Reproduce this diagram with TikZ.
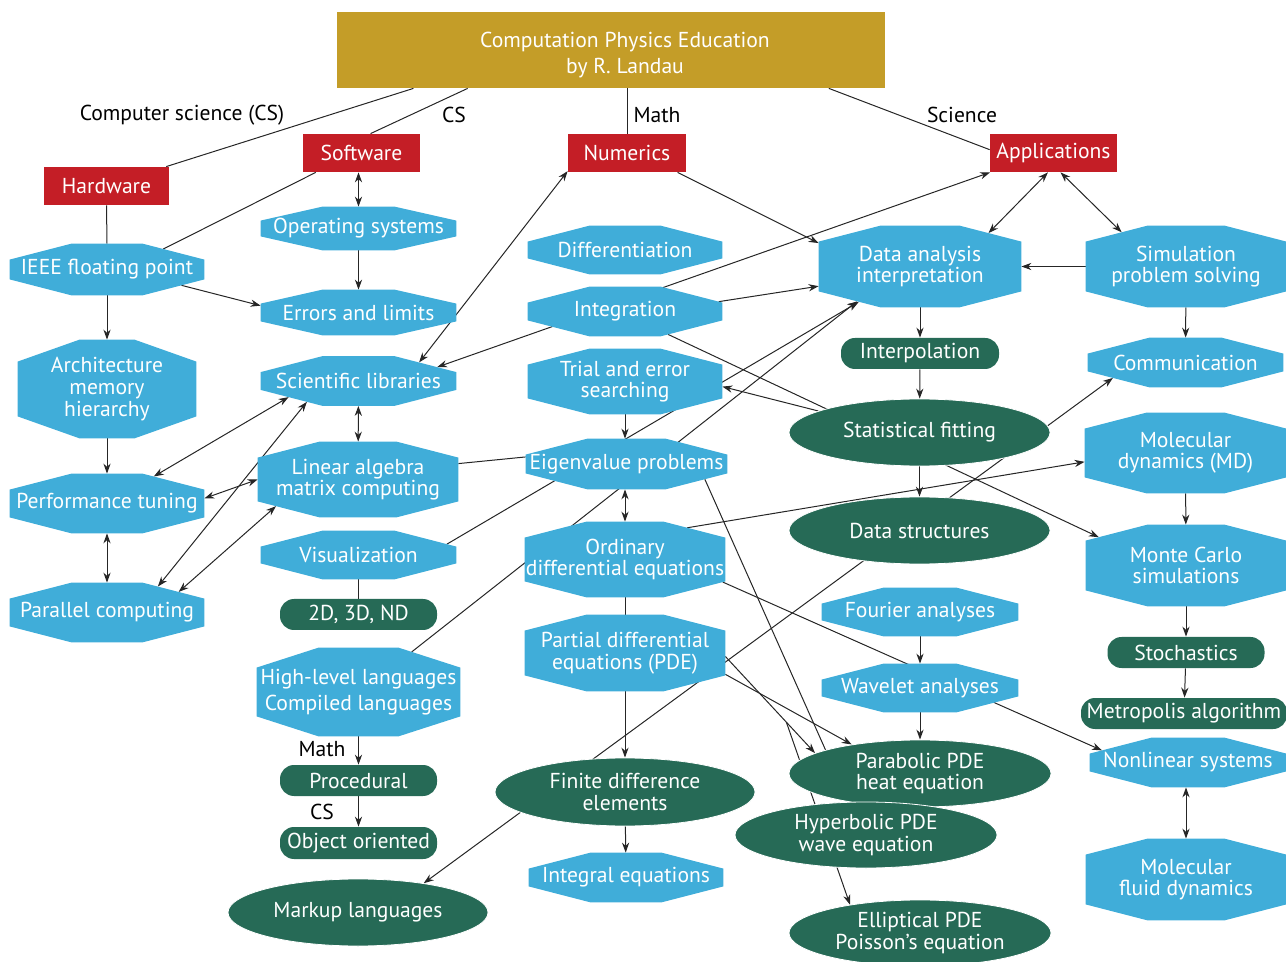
\documentclass[tikz,border=0pt]{standalone}
\usepackage{fontspec}
\setmainfont{PT Sans}
\usetikzlibrary{arrows.meta, shapes.geometric, calc}
\definecolor{skyblue}{RGB}{64,173,217}
\definecolor{pine}{RGB}{38,106,86}
\definecolor{brick}{RGB}{196,30,38}
\definecolor{mustard}{RGB}{196,157,40}
\pgfdeclarelayer{background}
\pgfsetlayers{background,main}

% octagon with wide cut corners (cut sizes: octo cx, octo cy)
\makeatletter
\pgfkeys{/pgf/octo cx/.initial=31pt, /pgf/octo cy/.initial=8pt}
\pgfdeclareshape{octo}{%
  \inheritsavedanchors[from=rectangle]%
  \inheritanchor[from=rectangle]{center}%
  \inheritanchor[from=rectangle]{north}%
  \inheritanchor[from=rectangle]{south}%
  \inheritanchor[from=rectangle]{east}%
  \inheritanchor[from=rectangle]{west}%
  \inheritanchor[from=rectangle]{text}%
  \inheritanchor[from=rectangle]{base}%
  \inheritanchor[from=rectangle]{mid}%
  \saveddimen{\octcx}{\pgfmathsetlength\pgf@x{\pgfkeysvalueof{/pgf/octo cx}}}%
  \saveddimen{\octcy}{\pgfmathsetlength\pgf@x{\pgfkeysvalueof{/pgf/octo cy}}}%
  \backgroundpath{%
    \southwest \edef\oct@xl{\the\pgf@x}\edef\oct@yl{\the\pgf@y}%
    \northeast \edef\oct@xr{\the\pgf@x}\edef\oct@yr{\the\pgf@y}%
    \pgfpathmoveto{\pgfpoint{\oct@xl}{\oct@yl+\octcy}}%
    \pgfpathlineto{\pgfpoint{\oct@xl+\octcx}{\oct@yl}}%
    \pgfpathlineto{\pgfpoint{\oct@xr-\octcx}{\oct@yl}}%
    \pgfpathlineto{\pgfpoint{\oct@xr}{\oct@yl+\octcy}}%
    \pgfpathlineto{\pgfpoint{\oct@xr}{\oct@yr-\octcy}}%
    \pgfpathlineto{\pgfpoint{\oct@xr-\octcx}{\oct@yr}}%
    \pgfpathlineto{\pgfpoint{\oct@xl+\octcx}{\oct@yr}}%
    \pgfpathlineto{\pgfpoint{\oct@xl}{\oct@yr-\octcy}}%
    \pgfpathclose
  }%
  \anchorborder{%
    \edef\oct@u{\pgf@sys@tonumber\pgf@x}%
    \edef\oct@v{\pgf@sys@tonumber\pgf@y}%
    \southwest \edef\oct@xl{\pgf@sys@tonumber\pgf@x}\edef\oct@yl{\pgf@sys@tonumber\pgf@y}%
    \northeast \edef\oct@xr{\pgf@sys@tonumber\pgf@x}\edef\oct@yr{\pgf@sys@tonumber\pgf@y}%
    \pgf@x=\octcx \edef\oct@cx{\pgf@sys@tonumber\pgf@x}%
    \pgf@x=\octcy \edef\oct@cy{\pgf@sys@tonumber\pgf@x}%
    \pgfmathsetmacro\oct@a{(\oct@xr-\oct@xl)/2}%
    \pgfmathsetmacro\oct@b{(\oct@yr-\oct@yl)/2}%
    \pgfmathsetmacro\oct@t{min(\oct@a/max(abs(\oct@u),0.01), \oct@b/max(abs(\oct@v),0.01), (\oct@cy*\oct@a+\oct@cx*\oct@b-\oct@cx*\oct@cy)/max(\oct@cy*abs(\oct@u)+\oct@cx*abs(\oct@v),0.01))}%
    \pgfmathsetmacro\oct@px{\oct@t*\oct@u+(\oct@xl+\oct@xr)/2}%
    \pgfmathsetmacro\oct@py{\oct@t*\oct@v+(\oct@yl+\oct@yr)/2}%
    \pgf@x=\oct@px pt\relax
    \pgf@y=\oct@py pt\relax
  }%
}
\makeatother

\tikzset{base/.style = {inner sep=0pt, text=white, align=center, font=\fontsize{10.8}{10.8}\selectfont}}
\tikzset{sz/.style args = {#1/#2}{minimum width=#1*0.5pt, minimum height=#2*0.5pt}}
\tikzset{octa/.style = {base, shape=octo, fill=skyblue}}
\tikzset{pill/.style = {base, rectangle, rounded corners=7pt, fill=pine}}
\tikzset{oval/.style = {base, ellipse, fill=pine, draw=white, line width=0.4pt}}
\tikzset{redbox/.style = {base, rectangle, fill=brick}}
\tikzset{tag/.style = {inner sep=0pt, font=\fontsize{10.8}{10.8}\selectfont}}
\tikzset{link/.style = {line width=0.5pt, draw=black!85}}

\begin{document}
\begin{tikzpicture}[x=0.5pt, y=-0.5pt, >={Stealth[length=5pt, width=3.6pt]}]
\useasboundingbox (0,0) rectangle (1286,962);

	% Title and the four branches
    \node[redbox, fill=mustard, sz=548/76] (top) at (611,50) {};
    \node[base, font=\fontsize{10.8}{13}\selectfont] (toptext) at (625,55) {Computation Physics Education\\by R. Landau};
    \node[redbox, sz=125/38] (hw) at (106.5,186) {Hardware};
    \node[redbox, sz=117/38] (sw) at (361.5,153) {Software};
    \node[redbox, sz=118/38] (num) at (627,153) {Numerics};
    \node[redbox, sz=127/38] (app) at (1053.5,153) {Applications};
    \node[tag] (lcs) at (182,115) {Computer science (CS)};
    \node[tag] (lcs2) at (454,115) {CS};
    \node[tag] (lmath) at (657,115) {Math};
    \node[tag] (lsci) at (962,115) {Science};

    % Computer science
    \node[octa, sz=195/43, octo cy=7pt] (os) at (358.5,228.5) {Operating systems};
    \node[octa, sz=195/45, octo cy=7pt] (err) at (358.5,312.5) {Errors and limits};
    \node[octa, sz=194/51] (ieee) at (107,269.5) {IEEE floating point};
    \node[octa, sz=178/98, octo cy=11pt] (arch) at (107,389) {Architecture\\memory\\hierarchy};
    \node[octa, sz=194/59] (perf) at (107,503.5) {Performance tuning};
    \node[octa, sz=194/59] (par) at (107,612.5) {Parallel computing};
    \node[octa, sz=195/49] (sci) at (358.5,381) {Scientific libraries};
    \node[octa, sz=200/75] (lin) at (358,479.5) {Linear algebra\\matrix computing};
    \node[octa, sz=195/48] (vis) at (358.5,555) {Visualization};
    \node[pill, sz=157/31] (dd) at (358.5,614.5) {2D, 3D, ND};
    \node[octa, sz=203/88, octo cy=10pt, font=\fontsize{10.8}{13}\selectfont] (hll) at (358.5,692) {High-level languages\\Compiled languages};
    \node[pill, sz=157/31] (proc) at (358.5,780.5) {Procedural};
    \node[pill, sz=157/32] (oo) at (358.5,843) {Object oriented};
    \node[oval, sz=260/67] (markup) at (358,912.5) {Markup languages};
    \node[tag] (lmath2) at (322,749) {Math};
    \node[tag] (lcs3) at (322,812) {CS};

    % Numerics
    \node[octa, sz=194/48] (diff) at (625,250) {Differentiation};
    \node[octa, sz=194/49] (integ) at (625,311.5) {Integration};
    \node[octa, sz=194/65] (trial) at (625,381.5) {Trial and error\\searching};
    \node[octa, sz=201/50] (eig) at (626.5,464) {Eigenvalue problems};
    \node[octa, sz=200/75] (ode) at (625,559.5) {Ordinary\\differential equations};
    \node[octa, sz=200/76] (pde) at (625,653) {Partial differential\\equations (PDE)};
    \node[oval, sz=260/68] (fd) at (625,792) {Finite difference\\elements};
    \node[octa, sz=194/49] (inteq) at (626,877.5) {Integral equations};

    % Data handling
    \node[octa, sz=202/81] (da) at (920,266.5) {Data analysis\\interpretation};
    \node[pill, sz=158/31] (interp) at (920,353.5) {Interpolation};
    \node[oval, sz=261/67] (stat) at (919.5,432.5) {Statistical fitting};
    \node[oval, sz=261/67] (ds) at (919.5,530.5) {Data structures};
    \node[octa, sz=196/48] (four) at (920,612) {Fourier analyses};
    \node[octa, sz=196/48] (wav) at (920,688) {Wavelet analyses};
    \node[oval, sz=262/67] (parab) at (920,773.5) {Parabolic PDE\\heat equation};
    \node[oval, sz=262/66] (hyp) at (866,835) {Hyperbolic PDE\\wave equation};
    \node[oval, sz=262/66] (ell) at (920,933) {Elliptical PDE\\Poisson’s equation};

    % Applications
    \node[octa, sz=200/81] (sim) at (1186,266.5) {Simulation\\problem solving};
    \node[octa, sz=195/49] (comm) at (1185.5,362.5) {Communication};
    \node[octa, sz=201/80] (md) at (1185.5,453) {Molecular\\dynamics (MD)};
    \node[octa, sz=200/81] (mc) at (1186,565.5) {Monte Carlo\\simulations};
    \node[pill, sz=157/31] (stoch) at (1186,652.5) {Stochastics};
    \node[pill, sz=206/31] (metro) at (1184,713.5) {Metropolis algorithm};
    \node[octa, sz=196/49] (nonlin) at (1188,762.5) {Nonlinear systems};
    \node[octa, sz=200/81] (mfd) at (1186,879.5) {Molecular\\fluid dynamics};

    \begin{pgfonlayer}{background}
    % branches from the title
    \draw[link] (top.191.5) -- (hw.18.3);
    \draw[link] (top.195.2) -- (sw.65.9);
    \draw[link] (top.south -| num.north) -- (num.north);
    \draw[link] (top.-10.5) -- (app.177);

    % computer science links
    \draw[link] (hw.south) -- (ieee.north);
    \draw[link] (sw.203.6) -- (ieee.20.4);
    \draw[<->, link] (os.north |- sw.south) -- (os.north);
    \draw[->, link] (os) -- (err);
    \draw[->, link] (ieee.-12.1) -- (err.176.2);
    \draw[->, link] (ieee) -- (arch);
    \draw[->, link] (arch) -- (perf);
    \draw[<->, link] (perf) -- (par);
    \draw[<->, link] (perf.30.9) -- (sci.193.2);
    \draw[<->, link] (perf.3.7) -- (lin.180.9);
    \draw[<->, link] (par.27) -- (sci.202);
    \draw[<->, link] (par.16.1) -- (lin.198.1);
    \draw[<->, link] (sci) -- (lin);
    \draw[<->, link] (sci.17) -- (num.197.8);
    \draw[<->, link] (sci.10.1) -- (app.197.2);
    \draw[link] (lin.9.4) -- (eig.176.5);
    \draw[->, link] (vis.7) -- (da.210.6);
    \draw[link] (vis) -- (dd);
    \draw[->, link] (hll.37.8) -- (da.209.8);
    \draw[->, link] (hll) -- (proc);
    \draw[->, link] (proc) -- (oo);
    \draw[<->, link] (markup.24) -- (comm.192.3);

    % numerics links
    \draw[->, link] (num.-21.6) -- (da.167);
    \draw[->, link] (integ.6.8) -- (da.191.9);
    \draw[->, link] (integ.-28.7) -- (mc.162.3);
    \draw[->, link] (trial.south) -- (trial.south |- eig.north);
    \draw[<->, link] (ode.north |- eig.south) -- (ode.north);
    \draw[link] (ode) -- (pde);
    \draw[->, link] (pde) -- (fd);
    \draw[->, link] (fd) -- (inteq);
    \draw[->, link] (ode.27.3) -- (md.185.8);
    \draw[->, link] (ode.-13.3) -- (nonlin.172.7);
    \draw[link] (eig.-11.1) -- (parab.166.1);
    \draw[->, link] (pde.-2.9) -- (parab.169.6);
    \draw[->, link] (pde.-12.3) -- (parab.157.8);
    \draw[->, link] ($(pde.-2.9)!0.68!(parab.169.6)$) -- (ell.158.7);

    % applications links
    \draw[<->, link] (app.254.6) -- (da.26.2);
    \draw[<->, link] (app.290.6) -- (sim.152.7);
    \draw[->, link] (sim.west) -- (da.east);
    \draw[->, link] (da) -- (interp);
    \draw[->, link] (interp) -- (stat);
    \draw[->, link] (stat.168.6) -- (trial.-3.2);
    \draw[->, link] (stat) -- (ds);
    \draw[->, link] (four) -- (wav);
    \draw[->, link] (wav) -- (parab);
    \draw[->, link] (sim) -- (comm);
    \draw[->, link] (md) -- (mc);
    \draw[->, link] (mc) -- (stoch);
    \draw[->, link] (stoch) -- (metro);
    \draw[<->, link] (mfd.north |- nonlin.south) -- (mfd.north);
    \end{pgfonlayer}

\end{tikzpicture}
\end{document}
